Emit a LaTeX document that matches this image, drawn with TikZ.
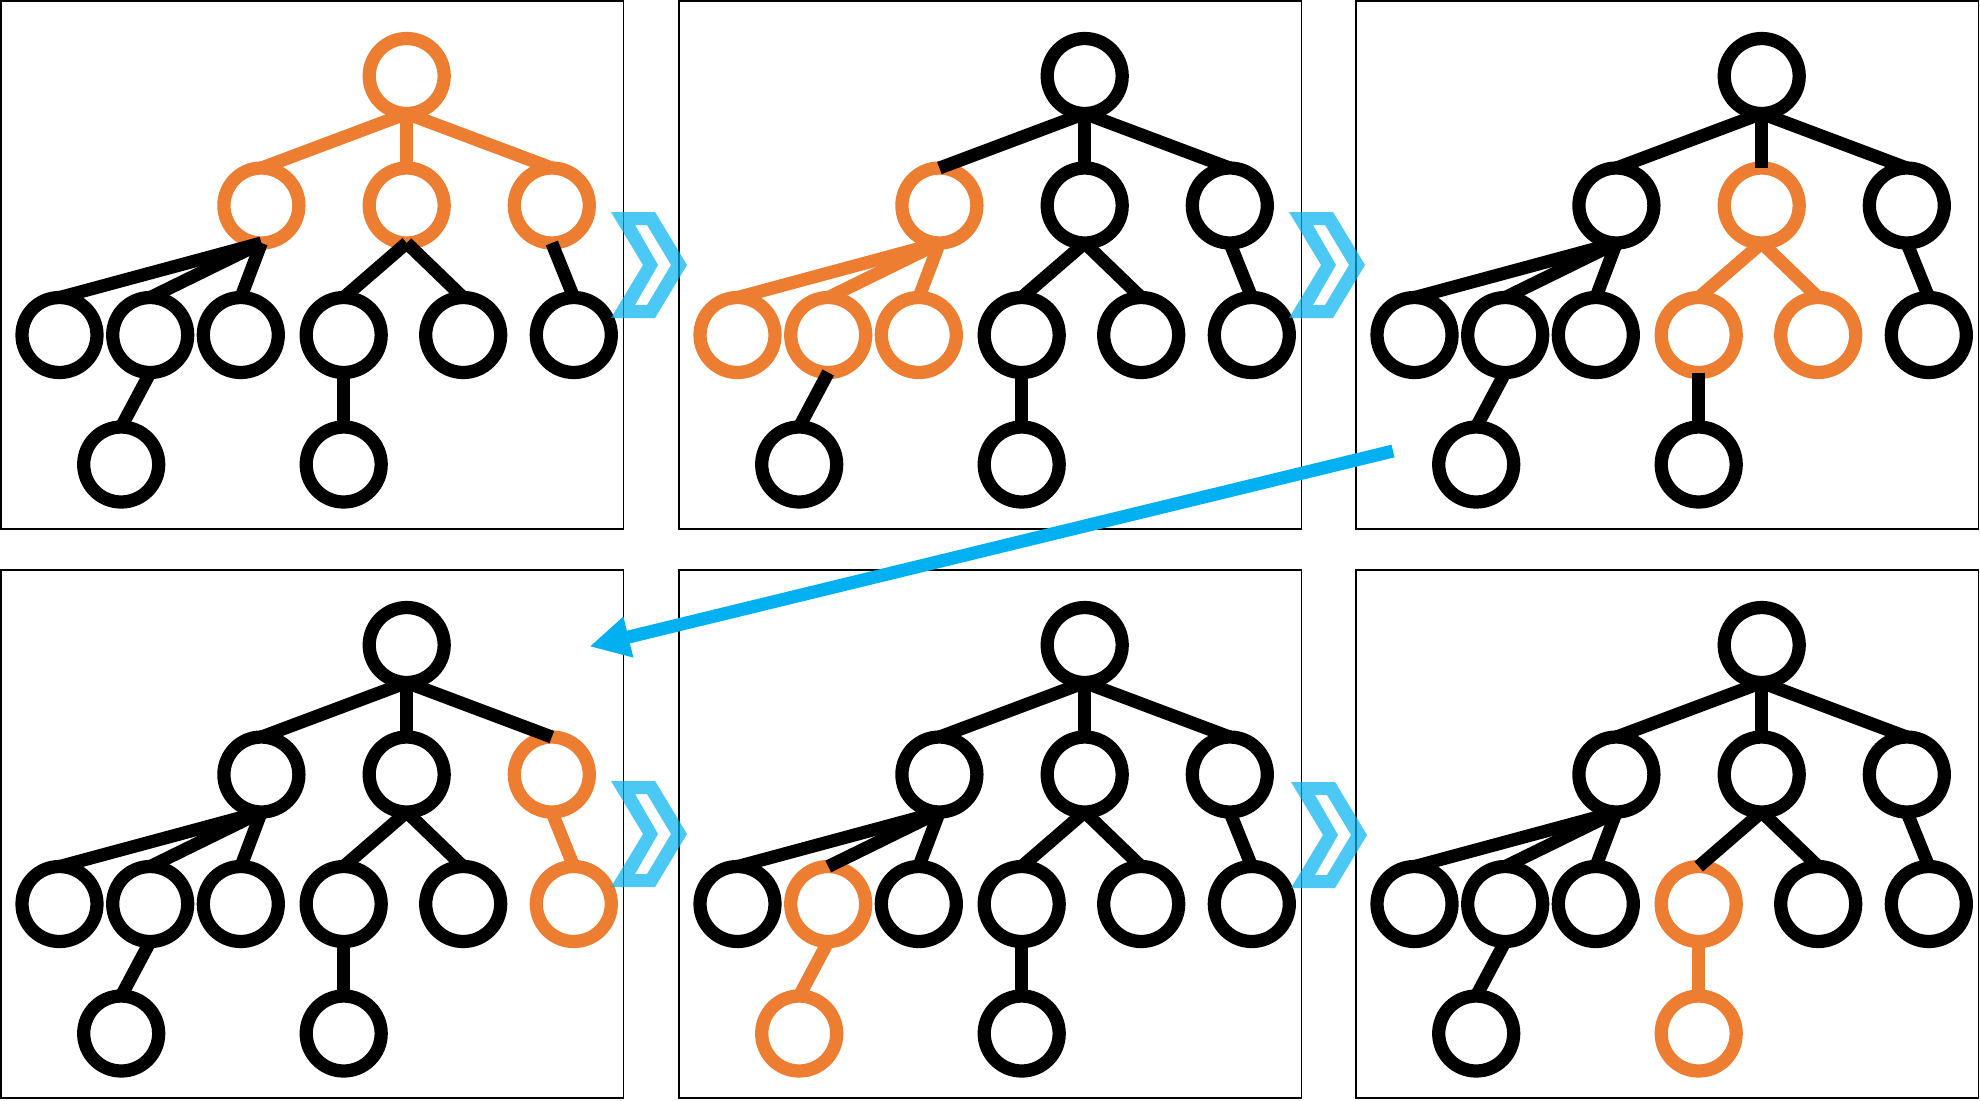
\documentclass[tikz,border=0pt]{standalone}
\usepackage{xcolor}
\usepackage{tikz}
\usetikzlibrary{arrows.meta}
\definecolor{treeorange}{HTML}{ED7D31}
\definecolor{arrowblue}{HTML}{00B0F0}
\tikzset{
    vertex/.style={circle, draw=black, line width=0.265cm, minimum size=1.5cm, inner sep=0pt, outer sep=0pt},
    link/.style={draw=black, line width=0.26cm},
    hot/.style={draw=treeorange},
    panel/.style={draw=black, line width=0.036cm},
    chevron/.style={fill=arrowblue, fill opacity=0.7, even odd rule},
    bigarrow/.style={draw=arrowblue, line width=0.26cm, -{Triangle[length=0.8cm, width=0.78cm]}},
    % nothing is highlighted unless a panel says so
    n-r/.style={}, n-a/.style={}, n-b/.style={}, n-c/.style={},
    n-a1/.style={}, n-a2/.style={}, n-a3/.style={}, n-b1/.style={}, n-b2/.style={}, n-c1/.style={},
    n-a21/.style={}, n-b11/.style={},
    e-a/.style={}, e-b/.style={}, e-c/.style={},
    e-a1/.style={}, e-a2/.style={}, e-a3/.style={}, e-b1/.style={}, e-b2/.style={}, e-c1/.style={},
    e-a21/.style={}, e-b11/.style={}
}
\newcommand{\drawtree}[1]{%
    \node[vertex, n-r] (#1-r) at (405.7,75) {};
    \node[vertex, n-a] (#1-a) at (260.4,204.5) {};
    \node[vertex, n-b] (#1-b) at (405.7,204.5) {};
    \node[vertex, n-c] (#1-c) at (550.8,204.5) {};
    \node[vertex, n-a1] (#1-a1) at (58.5,334) {};
    \node[vertex, n-a2] (#1-a2) at (149.2,334) {};
    \node[vertex, n-a3] (#1-a3) at (239.8,334) {};
    \node[vertex, n-b1] (#1-b1) at (342.7,334) {};
    \node[vertex, n-b2] (#1-b2) at (462.2,334) {};
    \node[vertex, n-c1] (#1-c1) at (572.8,334) {};
    \node[vertex, n-a21] (#1-a21) at (120.2,463.5) {};
    \node[vertex, n-b11] (#1-b11) at (342.7,463.5) {};
    \draw[link, e-a] (#1-r.south) -- (#1-a.north);
    \draw[link, e-b] (#1-r.south) -- (#1-b.north);
    \draw[link, e-c] (#1-r.south) -- (#1-c.north);
    \draw[link, e-a1] (#1-a.south) -- (#1-a1.north);
    \draw[link, e-a2] (#1-a.south) -- (#1-a2.north);
    \draw[link, e-a3] (#1-a.south) -- (#1-a3.north);
    \draw[link, e-b1] (#1-b.south) -- (#1-b1.north);
    \draw[link, e-b2] (#1-b.south) -- (#1-b2.north);
    \draw[link, e-c1] (#1-c.south) -- (#1-c1.north);
    \draw[link, e-a21] (#1-a2.south) -- (#1-a21.north);
    \draw[link, e-b11] (#1-b1.south) -- (#1-b11.north);
}

\begin{document}
\begin{tikzpicture}[x=0.02cm, y=-0.02cm]
    \useasboundingbox (0,0) rectangle (1980,1100);
    % top row
    \begin{scope}[shift={(1,1)}, n-r/.style=hot, n-a/.style=hot, n-b/.style=hot, n-c/.style=hot,
        e-a/.style=hot, e-b/.style=hot, e-c/.style=hot]
        \draw[panel] (0,0) rectangle (622.5,528);
        \drawtree{A}
    \end{scope}
    \begin{scope}[shift={(679,1)}, n-a/.style=hot, n-a1/.style=hot, n-a2/.style=hot, n-a3/.style=hot,
        e-a1/.style=hot, e-a2/.style=hot, e-a3/.style=hot]
        \draw[panel] (0,0) rectangle (622.5,528);
        \drawtree{B}
    \end{scope}
    \begin{scope}[shift={(1356,1)}, n-b/.style=hot, n-b1/.style=hot, n-b2/.style=hot,
        e-b1/.style=hot, e-b2/.style=hot]
        \draw[panel] (0,0) rectangle (622.5,528);
        \drawtree{C}
    \end{scope}
    % bottom row
    \begin{scope}[shift={(1,570)}, n-c/.style=hot, n-c1/.style=hot, e-c1/.style=hot]
        \draw[panel] (0,0) rectangle (622.5,528);
        \drawtree{D}
    \end{scope}
    \begin{scope}[shift={(679,570)}, n-a2/.style=hot, n-a21/.style=hot, e-a21/.style=hot]
        \draw[panel] (0,0) rectangle (622.5,528);
        \drawtree{E}
    \end{scope}
    \begin{scope}[shift={(1356,570)}, n-b1/.style=hot, n-b11/.style=hot, e-b11/.style=hot]
        \draw[panel] (0,0) rectangle (622.5,528);
        \drawtree{F}
    \end{scope}
    % chevrons between panels
    \foreach \dx/\dy in {0/0, 678/0, 0/569, 680/570} {
        \fill[chevron, shift={(\dx,\dy)}]
            (611,212) -- (655,212) -- (687,265) -- (655,318) -- (611,318) -- (643,265) -- cycle
            (635,225) -- (647,225) -- (671,265) -- (647,305) -- (635,305) -- (658,265) -- cycle;
    }
    % back to the first panel of the bottom row
    \coordinate (tail) at (1393,451);
    \coordinate (head) at (589.5,646.5);
    \draw[bigarrow] (tail) -- (head);
\end{tikzpicture}
\end{document}
